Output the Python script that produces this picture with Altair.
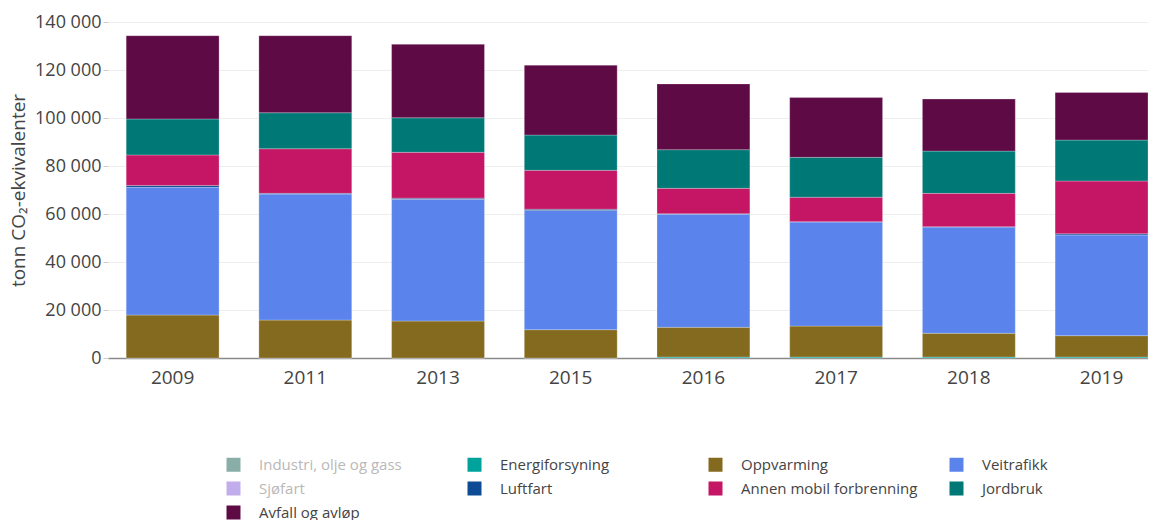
import altair as alt
import pandas as pd

years = ["2009", "2011", "2013", "2015", "2016", "2017", "2018", "2019"]

categories = [
    "Industri, olje og gass",
    "Energiforsyning",
    "Oppvarming",
    "Veitrafikk",
    "Sjøfart",
    "Luftfart",
    "Annen mobil forbrenning",
    "Jordbruk",
    "Avfall og avløp",
]
colors = [
    "#89aea7",  # Industri (hidden / faded)
    "#00a39b",  # Energiforsyning
    "#836a1e",  # Oppvarming
    "#5a84ec",  # Veitrafikk
    "#c2adec",  # Sjøfart (hidden / faded)
    "#0d4c94",  # Luftfart
    "#c41664",  # Annen mobil forbrenning
    "#007876",  # Jordbruk
    "#5e0a44",  # Avfall og avløp
]
inactive = ["Industri, olje og gass", "Sjøfart"]

energiforsyning = [0, 0, 0, 0, 400, 400, 400, 400]
oppvarming = [17900, 15800, 15400, 11800, 12400, 12900, 9900, 8900]
veitrafikk = [53200, 52500, 50700, 49700, 47100, 43400, 44300, 41950]
luftfart = [800, 300, 500, 500, 200, 100, 100, 500]
annen_mobil = [12700, 18600, 19100, 16200, 10600, 10200, 13900, 22000]
jordbruk = [15000, 15000, 14400, 14700, 16100, 16600, 17600, 17050]
avfall = [34700, 32100, 30600, 29100, 27400, 24900, 21700, 19800]

series = {
    "Energiforsyning": energiforsyning,
    "Oppvarming": oppvarming,
    "Veitrafikk": veitrafikk,
    "Luftfart": luftfart,
    "Annen mobil forbrenning": annen_mobil,
    "Jordbruk": jordbruk,
    "Avfall og avløp": avfall,
}

rows = []
for idx, cat in enumerate(categories):
    vals = series.get(cat)
    if vals is None:
        continue
    for yr, v in zip(years, vals):
        rows.append({"year": yr, "category": cat, "value": v, "stack": idx})
df = pd.DataFrame(rows)

FONT = "Open Sans"
inactive_expr = "indexof(['Industri, olje og gass', 'Sjøfart'], datum.label) >= 0 ? '#b8b8b8' : '#444444'"

chart = (
    alt.Chart(df)
    .mark_bar(stroke="white", strokeWidth=0.5, strokeOpacity=0.5)
    .encode(
        x=alt.X(
            "year:N",
            sort=years,
            title=None,
            scale=alt.Scale(paddingInner=0.3, paddingOuter=0.0685, align=1),
            axis=alt.Axis(
                labelAngle=0,
                labelFont=FONT,
                labelFontSize=19,
                labelColor="#444444",
                labelPadding=10,
                ticks=False,
                domainColor="#8a8a8a",
                domainWidth=1.5,
                grid=False,
            ),
        ),
        y=alt.Y(
            "value:Q",
            stack="zero",
            scale=alt.Scale(domain=[0, 140000], nice=False),
            axis=alt.Axis(
                values=list(range(0, 140001, 20000)),
                labelExpr="replace(format(datum.value, ','), ',', ' ')",
                labelFont=FONT,
                labelFontSize=18,
                labelColor="#444444",
                labelPadding=2,
                tickSize=5,
                tickColor="#cccccc",
                domain=False,
                grid=True,
                gridColor="#eeeeee",
                title="tonn CO₂-ekvivalenter",
                titleFont=FONT,
                titleFontSize=19,
                titleFontWeight="normal",
                titleColor="#444444",
                titlePadding=6,
            ),
        ),
        color=alt.Color(
            "category:N",
            scale=alt.Scale(domain=categories, range=colors),
            legend=alt.Legend(
                orient="none",
                legendX=118,
                legendY=435,
                direction="horizontal",
                columns=4,
                title=None,
                symbolType="square",
                symbolSize=196,
                symbolStrokeWidth=0,
                labelFont=FONT,
                labelFontSize=15,
                labelColor={"expr": inactive_expr},
                labelOffset=18,
                labelLimit=400,
                columnPadding=31,
                rowPadding=8,
                gridAlign="all",
                padding=0,
            ),
        ),
        order=alt.Order("stack:Q", sort="ascending"),
    )
    .properties(
        width=1040,
        height=336,
        padding={"left": 100, "top": 14, "right": 0, "bottom": 166},
        autosize=alt.AutoSizeParams(type="none"),
    )
    .configure_view(stroke=None)
)

chart.save("out.html", embed_options={"renderer": "svg", "actions": False})
